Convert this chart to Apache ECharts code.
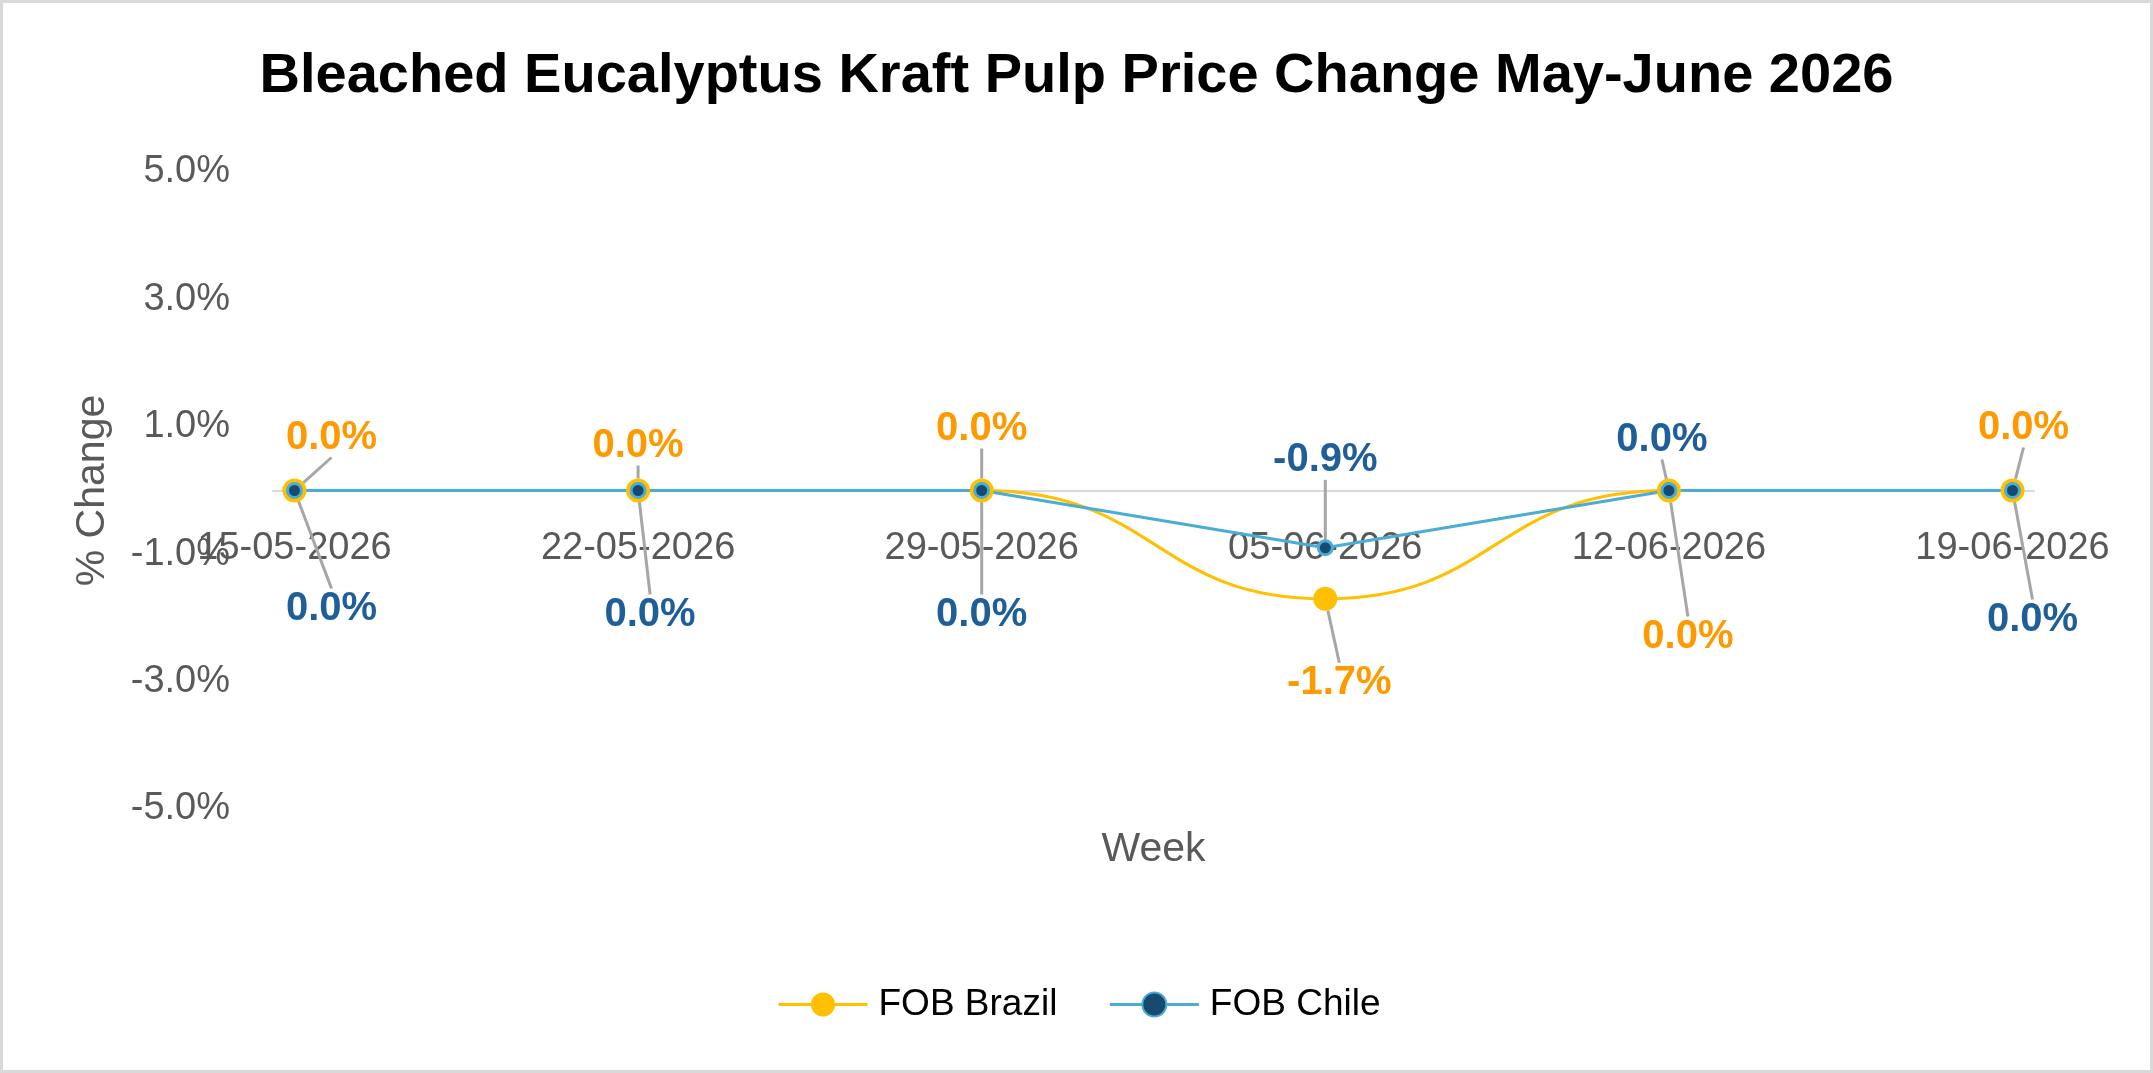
<!DOCTYPE html>
<html>
<head>
<meta charset="utf-8">
<script src="https://cdn.jsdelivr.net/npm/echarts@6/dist/echarts.min.js"></script>
<style>
  html, body { margin: 0; padding: 0; background: #fff; }
  #main { position: absolute; left: 0; top: 0; width: 2153px; height: 1073px; }
  #frame { position: absolute; left: 0; top: 0; width: 2153px; height: 1073px;
           box-sizing: border-box; border: 3px solid #d9d9d9; pointer-events: none; }
</style>
</head>
<body>
<div id="main"></div>
<div id="frame"></div>
<script>
// weeks and % change per series
const weeks = ['15-05-2026', '22-05-2026', '29-05-2026', '05-06-2026', '12-06-2026', '19-06-2026'];
const brazil = [0.0, 0.0, 0.0, -1.7, 0.0, 0.0];
const chile = [0.0, 0.0, 0.0, -0.9, 0.0, 0.0];

// where each data label sits relative to its point (px), Excel-style
const labelShift = [
  [[37, -53], [0, -45], [0, -62], [14, 84], [19, 146], [11, -63]],
  [[37, 118], [12, 124], [0, 124], [0, -88], [-7, -51], [20, 129]]
];

const font = 'Liberation Sans, Arial, sans-serif';
const pct = (v) => v.toFixed(1) + '%';

// x axis is numeric so the axis line can run a little past the first/last week;
// step of 1/16 keeps min on a tick and the week positions exact
const xStep = 1 / 16;
const weekLabel = (v) => {
  const i = Math.round(v);
  return Math.abs(v - i) < 1e-6 && weeks[i] ? weeks[i] : '';
};

const myChart = echarts.init(document.getElementById('main'));

const leader = { show: true, lineStyle: { color: '#a6a6a6', width: 3 } };

const option = {
  animation: false,
  textStyle: { fontFamily: font },
  title: {
    text: 'Bleached Eucalyptus Kraft Pulp Price Change May-June 2026',
    left: 'center',
    top: 44,
    textStyle: { fontSize: 56, fontWeight: 'bold', color: '#000', fontFamily: font }
  },
  legend: {
    data: ['FOB Brazil', 'FOB Chile'],
    left: 772,
    top: 981,
    itemWidth: 89,
    itemHeight: 30,
    itemGap: 51,
    lineStyle: { width: 3 },
    textStyle: { fontSize: 37, color: '#000', padding: [0, 0, 0, 6] }
  },
  grid: { left: 273, right: 119, top: 172, bottom: 264, outerBoundsMode: 'none', containLabel: false },
  xAxis: {
    type: 'value',
    min: -xStep,
    max: 5 + xStep,
    interval: xStep,
    name: 'Week',
    nameLocation: 'middle',
    nameGap: 20,
    nameMoveOverlap: false,
    nameTextStyle: { fontSize: 41, color: '#595959' },
    axisLine: { onZero: true, lineStyle: { color: '#d9d9d9', width: 2 } },
    axisTick: { show: false },
    splitLine: { show: false },
    axisLabel: {
      show: true,
      fontSize: 38,
      color: '#595959',
      // labels stay at the grid edge here, so pull them up under the zero line
      margin: -279,
      formatter: weekLabel
    }
  },
  yAxis: {
    type: 'value',
    min: -5,
    max: 5,
    interval: 1,
    name: '% Change',
    nameLocation: 'middle',
    nameGap: 160,
    nameTextStyle: { fontSize: 41, color: '#595959' },
    axisLine: { show: false, onZero: false },
    axisTick: { show: false },
    splitLine: { show: false },
    axisLabel: {
      fontSize: 38,
      color: '#595959',
      margin: 43,
      formatter: (v) => (Math.abs(Math.round(v)) % 2 === 1 ? pct(v) : '')
    }
  },
  series: [
    {
      name: 'FOB Brazil',
      type: 'line',
      smooth: true,
      data: brazil.map((v, i) => [i, v]),
      symbol: 'circle',
      symbolSize: 24,
      itemStyle: { color: '#ffc000' },
      lineStyle: { color: '#ffc000', width: 3 },
      label: {
        show: true,
        position: 'inside',
        formatter: (p) => pct(p.value[1]),
        fontSize: 40,
        fontWeight: 'bold',
        color: '#ff9900'
      },
      labelLine: leader
    },
    {
      name: 'FOB Chile',
      type: 'line',
      data: chile.map((v, i) => [i, v]),
      symbol: 'circle',
      symbolSize: 14,
      itemStyle: { color: '#174a6e', borderColor: '#4bacd6', borderWidth: 3 },
      lineStyle: { color: '#4bacd6', width: 3 },
      label: {
        show: true,
        position: 'inside',
        formatter: (p) => pct(p.value[1]),
        fontSize: 40,
        fontWeight: 'bold',
        color: '#1f5f99'
      },
      labelLine: leader
    }
  ],
  labelLayout: (params) => {
    const s = labelShift[params.seriesIndex][params.dataIndex];
    return { dx: s[0], dy: s[1] };
  }
};

myChart.setOption(option);
</script>
</body>
</html>
